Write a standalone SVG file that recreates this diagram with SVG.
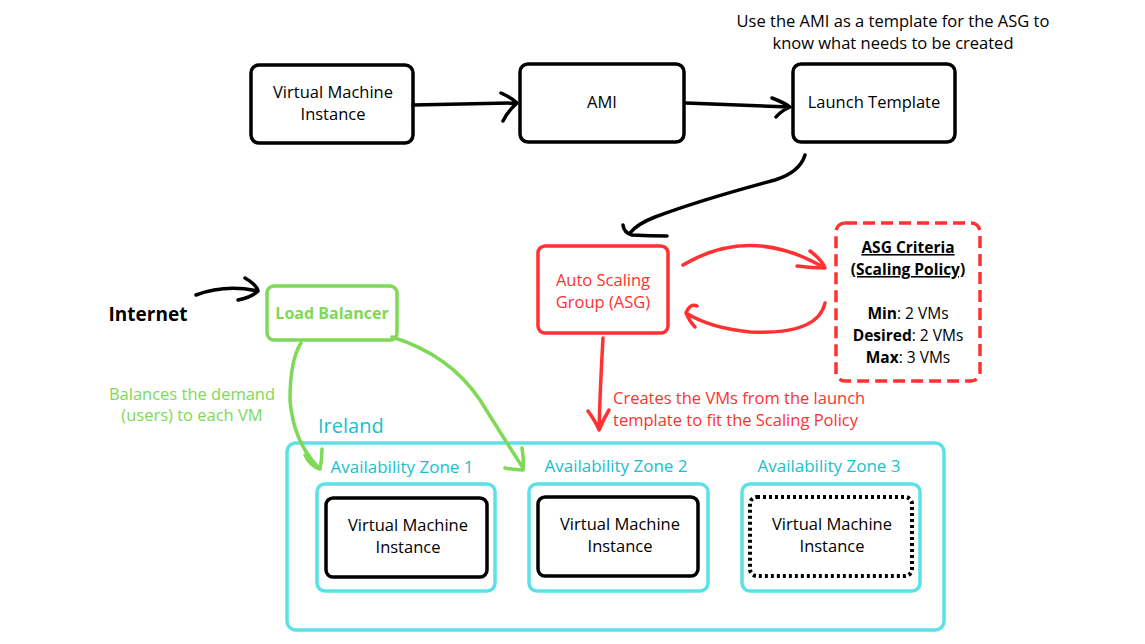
<svg xmlns="http://www.w3.org/2000/svg" width="1145" height="644" viewBox="0 0 1145 644">
<style>
text{font-family:"Open Sans","Liberation Sans",sans-serif;font-size:16.5px;text-anchor:middle}
.st{text-anchor:start}
.crit{font-size:15.5px}
.b{font-weight:bold}
.u{text-decoration:underline}
.az{font-size:17px}
.inet{font-size:19px;font-weight:bold}
.irl{font-size:20px}
.lb{font-size:16px;font-weight:bold}
.blk{fill:none;stroke:#000;stroke-width:3.5}
.red{fill:none;stroke:#ff3131;stroke-width:3.5}
.grn{fill:none;stroke:#7ed957;stroke-width:3.5}
.cyn{fill:none;stroke:#5ce1e6;stroke-width:3.5}
.ln{fill:none;stroke-width:3.5;stroke-linecap:round;stroke-linejoin:round}
.tr{fill:#ff3131}
.tg{fill:#7ed957}
.tc{fill:#17c0d0}
</style>
<rect width="1145" height="644" fill="#fff"/>
<text x="893" y="27">Use the AMI as a template for the ASG to</text>
<text x="893" y="49">know what needs to be created</text>
<g id="vm-top"><rect class="blk" x="251" y="65" width="162" height="78" rx="8"/><text x="333" y="98">Virtual Machine</text><text x="333" y="120">Instance</text></g>
<g id="ami"><rect class="blk" x="520" y="64" width="164" height="78" rx="8"/><text x="602" y="108">AMI</text></g>
<g id="launch-template"><rect class="blk" x="793" y="64" width="162" height="78" rx="8"/><text x="874" y="108">Launch Template</text></g>
<g id="asg"><rect class="red" x="538" y="246" width="130" height="87" rx="7"/><text class="tr" x="603" y="286">Auto Scaling</text><text class="tr" x="603" y="308">Group (ASG)</text></g>
<g id="asg-criteria"><rect class="red" x="836" y="223" width="144" height="158" rx="9" stroke-dasharray="12,6"/>
<text class="crit b u" x="908" y="253">ASG Criteria</text>
<text class="crit b u" x="908" y="275">(Scaling Policy)</text>
<text class="crit" x="908" y="319"><tspan class="b">Min</tspan>: 2 VMs</text>
<text class="crit" x="908" y="341"><tspan class="b">Desired</tspan>: 2 VMs</text>
<text class="crit" x="908" y="363"><tspan class="b">Max</tspan>: 3 VMs</text></g>
<g id="internet"><text class="inet" x="148" y="321">Internet</text></g>
<g id="load-balancer"><rect class="grn" x="267" y="286" width="130" height="54" rx="7"/><text class="tg lb" x="332" y="319">Load Balancer</text></g>
<text class="tg" x="192" y="400">Balances the demand</text>
<text class="tg" x="192" y="421">(users) to each VM</text>
<text class="tr st" x="613" y="404">Creates the VMs from the launch</text>
<text class="tr st" x="613" y="426">template to fit the Scaling Policy</text>
<g id="ireland"><rect class="cyn" x="287" y="443" width="657" height="187" rx="9"/><text class="tc irl st" x="318" y="433">Ireland</text></g>
<g id="az1"><text class="tc az" x="402" y="473">Availability Zone 1</text><rect class="cyn" x="317" y="484" width="178" height="107" rx="8"/></g>
<g id="az2"><text class="tc az" x="616" y="472">Availability Zone 2</text><rect class="cyn" x="529" y="484" width="179" height="107" rx="8"/></g>
<g id="az3"><text class="tc az" x="829" y="472">Availability Zone 3</text><rect class="cyn" x="742" y="484" width="178" height="107" rx="8"/></g>
<g id="vm1"><rect class="blk" x="326" y="498" width="161" height="79" rx="7"/><text x="408" y="531">Virtual Machine</text><text x="408" y="553">Instance</text></g>
<g id="vm2"><rect class="blk" x="538" y="497" width="160" height="79" rx="7"/><text x="620" y="530">Virtual Machine</text><text x="620" y="552">Instance</text></g>
<g id="vm3"><rect x="750" y="497" width="162" height="79" rx="7" fill="none" stroke="#000" stroke-width="4" stroke-dasharray="3,3"/><text x="832" y="530">Virtual Machine</text><text x="832" y="552">Instance</text></g>
<g id="connectors">
<path class="ln" stroke="#000" stroke-width="4" d="M413 105 Q470 104 516 103 M501 93 Q512 98 517 103 Q508 111 503 121"/>
<path class="ln" stroke="#000" stroke-width="4.5" d="M686 103 Q740 105 790 107 M772 98 Q785 103 790 107 Q781 111 776 117"/>
<path class="ln" stroke="#000" d="M805 155 Q800 172 775 180 Q700 200 655 217 Q637 224 630 233 M623 225 Q624 233 632 235 Q650 236 667 236"/>
<path class="ln" stroke="#ff3131" d="M683 265 Q750 225 823 267 M797 266 Q812 268 825 268 Q822 260 810 251"/>
<path class="ln" stroke="#ff3131" d="M825 303 Q818 335 750 332 Q710 328 686 313 M686 313 Q690 303 697 306 M686 313 Q690 322 695 327"/>
<path class="ln" stroke="#ff3131" d="M603 338 Q600 390 599 430 M588 411 Q596 422 599 430 Q603 420 609 410"/>
<path class="ln" stroke="#000" d="M196 295 Q225 284 258 291 M245 278 Q257 285 258 291 Q252 297 238 300"/>
<path class="ln" stroke="#7ed957" d="M301 343 Q290 360 290 400 Q293 440 317 466 M305 455 Q310 466 320 469 Q322 460 322 449"/>
<path class="ln" stroke="#7ed957" d="M392 337 Q450 355 480 400 Q505 440 523 468 M505 468 Q515 470 523 470 Q524 460 522 448"/>
</g>
</svg>
